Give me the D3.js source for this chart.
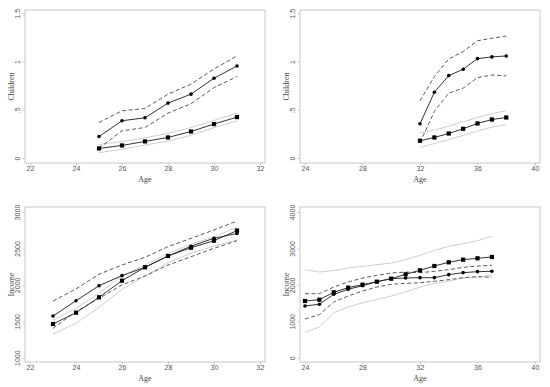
<!DOCTYPE html>
<html>
<head>
<meta charset="utf-8">
<script src="https://d3js.org/d3.v7.min.js"></script>
<style>
  body { margin: 0; background: #fff; }
  svg { font-family: "Liberation Serif", "DejaVu Serif", serif; }
  .frame { fill: none; stroke: #c8c8c8; stroke-width: 1; }
  .tick line { stroke: #c8c8c8; }
  .tick text { fill: #555; font-size: 7px; }
  .title { fill: #444; font-size: 8px; }
</style>
</head>
<body>
<script>
// panel 1: children, early group
var age1 = [25, 26, 27, 28, 29, 30, 31];
var p1Circ   = [0.223, 0.386, 0.417, 0.569, 0.662, 0.827, 0.954];
var p1CircHi = [0.368, 0.489, 0.513, 0.662, 0.765, 0.923, 1.058];
var p1CircLo = [0.103, 0.282, 0.316, 0.465, 0.562, 0.730, 0.844];
var p1Sq     = [0.099, 0.130, 0.172, 0.213, 0.275, 0.352, 0.424];
var p1SqHi   = [0.140, 0.170, 0.210, 0.255, 0.315, 0.390, 0.465];
var p1SqLo   = [0.055, 0.090, 0.135, 0.175, 0.235, 0.315, 0.385];

// panel 2: children, late group
var age2 = [32, 33, 34, 35, 36, 37, 38];
var p2Circ   = [0.355, 0.682, 0.854, 0.920, 1.030, 1.048, 1.058];
var p2CircHi = [0.593, 0.844, 1.027, 1.103, 1.216, 1.241, 1.265];
var p2CircLo = [0.160, 0.482, 0.672, 0.724, 0.834, 0.861, 0.851];
var p2Sq     = [0.179, 0.213, 0.254, 0.303, 0.358, 0.399, 0.420];
var p2SqHi   = [0.260, 0.290, 0.330, 0.375, 0.420, 0.460, 0.490];
var p2SqLo   = [0.110, 0.150, 0.190, 0.235, 0.280, 0.320, 0.345];

// panel 3: income, early group
var age3 = [23, 24, 25, 26, 27, 28, 29, 30, 31];
var p3Circ   = [1572, 1782, 1988, 2126, 2241, 2396, 2530, 2640, 2705];
var p3CircHi = [1778, 1943, 2145, 2272, 2378, 2524, 2639, 2753, 2876];
var p3CircLo = [1403, 1632, 1815, 1998, 2121, 2272, 2386, 2502, 2606];
var p3Sq     = [1463, 1618, 1829, 2057, 2241, 2396, 2510, 2606, 2745];
var p3SqHi   = [1517, 1678, 1884, 2126, 2272, 2433, 2557, 2661, 2790];
var p3SqLo   = [1325, 1472, 1692, 1939, 2121, 2304, 2433, 2533, 2616];

// panel 4: income, late group
var age4 = [24, 25, 26, 27, 28, 29, 30, 31, 32, 33, 34, 35, 36, 37];
var p4Sq     = [1557, 1593, 1795, 1923, 2005, 2087, 2170, 2289, 2399, 2518, 2619, 2691, 2729, 2765];
var p4SqHi   = [2416, 2352, 2389, 2462, 2508, 2554, 2600, 2691, 2810, 2947, 3057, 3130, 3213, 3332];
var p4SqLo   = [696, 842, 1236, 1391, 1510, 1602, 1693, 1803, 1940, 2032, 2105, 2188, 2215, 2261];
var p4Circ   = [1420, 1466, 1740, 1877, 1977, 2087, 2170, 2188, 2197, 2197, 2280, 2335, 2362, 2372];
var p4CircHi = [1757, 1757, 1940, 2078, 2188, 2261, 2325, 2352, 2334, 2371, 2416, 2481, 2517, 2535];
var p4CircLo = [1062, 1181, 1529, 1693, 1831, 1941, 2014, 2041, 2059, 2096, 2142, 2197, 2224, 2206];

var xTicks1 = [22, 24, 26, 28, 30, 32];
var xTicks2 = [24, 28, 32, 36, 40];
var yTicksKids = [0, 0.5, 1, 1.5];
var yTicksInc3 = [1000, 1500, 2000, 2500, 3000];
var yTicksInc4 = [0, 1000, 2000, 3000, 4000];

var svg = d3.select("body").append("svg")
    .attr("width", 550)
    .attr("height", 387);

function kidFmt(v) {
    if (v === 0) return "0";
    if (v === 0.5) return ".5";
    return String(v);
}

function panel(p) {
    var g = svg.append("g").attr("transform", "translate(" + p.left + "," + p.top + ")");
    var w = 240, h = p.h;

    var x = d3.scaleLinear().domain(p.xDomain).range([5, w - 5]);
    var y = d3.scaleLinear().domain(p.yDomain).range([h - p.padB, p.padT]);

    g.append("rect").attr("class", "frame")
        .attr("x", 0).attr("y", 0).attr("width", w).attr("height", h);

    g.append("g").attr("transform", "translate(0," + h + ")")
        .call(d3.axisBottom(x).tickValues(p.xTicks).tickSize(2.5).tickPadding(1).tickFormat(d3.format("d")))
        .call(function (a) { a.select(".domain").remove(); });

    var ya = g.append("g")
        .call(d3.axisLeft(y).tickValues(p.yTicks).tickSize(2.5).tickPadding(4).tickFormat(p.yFmt))
        .call(function (a) { a.select(".domain").remove(); });
    ya.selectAll(".tick text")
        .attr("transform", "rotate(-90)")
        .attr("x", 0).attr("y", -5)
        .attr("dy", 0)
        .style("text-anchor", "middle");

    g.append("text").attr("class", "title")
        .attr("x", w / 2).attr("y", h + 18.5)
        .attr("text-anchor", "middle").text("Age");
    g.append("text").attr("class", "title")
        .attr("transform", "translate(-11," + (h / 2) + ") rotate(-90)")
        .attr("text-anchor", "middle").text(p.yLabel);

    var line = function (vals) {
        return d3.line().x(function (d, i) { return x(p.ages[i]); })
            .y(function (d) { return y(d); })(vals);
    };

    // gray band around the square series
    [p.sqHi, p.sqLo].forEach(function (s) {
        g.append("path").attr("d", line(s))
            .attr("fill", "none").attr("stroke", "#cfcfcf").attr("stroke-width", 1);
    });
    // dashed band around the circle series
    [p.circHi, p.circLo].forEach(function (s) {
        g.append("path").attr("d", line(s))
            .attr("fill", "none").attr("stroke", "#5a5a5a").attr("stroke-width", 1)
            .attr("stroke-dasharray", "4,2.5");
    });
    [p.circ, p.sq].forEach(function (s) {
        g.append("path").attr("d", line(s))
            .attr("fill", "none").attr("stroke", "#333").attr("stroke-width", 1);
    });

    g.selectAll(".dot").data(p.circ).enter().append("circle")
        .attr("cx", function (d, i) { return x(p.ages[i]); })
        .attr("cy", function (d) { return y(d); })
        .attr("r", 1.8).attr("fill", "#000");
    g.selectAll(".sq").data(p.sq).enter().append("rect")
        .attr("x", function (d, i) { return x(p.ages[i]) - 2.1; })
        .attr("y", function (d) { return y(d) - 2.1; })
        .attr("width", 4.2).attr("height", 4.2).attr("fill", "#000");
}

panel({ left: 25, top: 10, h: 153, padB: 5, padT: 3.3,
    xDomain: [22, 32], yDomain: [0, 1.5], xTicks: xTicks1, yTicks: yTicksKids, yFmt: kidFmt,
    yLabel: "Children", ages: age1,
    circ: p1Circ, circHi: p1CircHi, circLo: p1CircLo, sq: p1Sq, sqHi: p1SqHi, sqLo: p1SqLo });

panel({ left: 300, top: 10, h: 153, padB: 5, padT: 3.3,
    xDomain: [24, 40], yDomain: [0, 1.5], xTicks: xTicks2, yTicks: yTicksKids, yFmt: kidFmt,
    yLabel: "Children", ages: age2,
    circ: p2Circ, circHi: p2CircHi, circLo: p2CircLo, sq: p2Sq, sqHi: p2SqHi, sqLo: p2SqLo });

panel({ left: 25, top: 207, h: 155, padB: 4.3, padT: 5,
    xDomain: [22, 32], yDomain: [1000, 3000], xTicks: xTicks1, yTicks: yTicksInc3, yFmt: d3.format("d"),
    yLabel: "Income", ages: age3,
    circ: p3Circ, circHi: p3CircHi, circLo: p3CircLo, sq: p3Sq, sqHi: p3SqHi, sqLo: p3SqLo });

panel({ left: 300, top: 207, h: 155, padB: 4.3, padT: 5,
    xDomain: [24, 40], yDomain: [0, 4000], xTicks: xTicks2, yTicks: yTicksInc4, yFmt: d3.format("d"),
    yLabel: "Income", ages: age4,
    circ: p4Circ, circHi: p4CircHi, circLo: p4CircLo, sq: p4Sq, sqHi: p4SqHi, sqLo: p4SqLo });
</script>
</body>
</html>
